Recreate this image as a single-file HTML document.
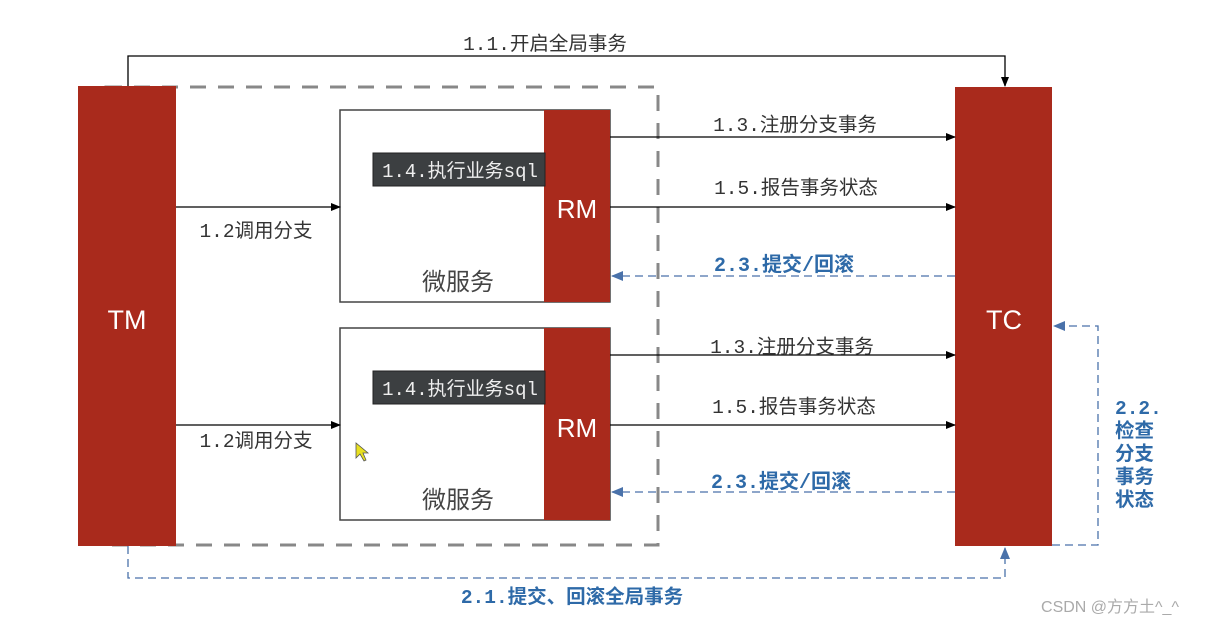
<!DOCTYPE html>
<html><head><meta charset="utf-8"><style>
html,body{margin:0;padding:0;background:#fff;}
svg{display:block;}
text{font-family:"Liberation Mono","Noto Sans CJK SC",monospace;}
.s{font-family:"Liberation Sans","Noto Sans CJK SC",sans-serif;}
</style></head><body>
<svg width="1205" height="625" viewBox="0 0 1205 625" xmlns="http://www.w3.org/2000/svg">
<defs>
<marker id="ab" markerWidth="10" markerHeight="10" refX="9" refY="5" orient="auto" markerUnits="userSpaceOnUse"><path d="M0,1 L10,5 L0,9 Z" fill="#000"/></marker>
<marker id="au" markerWidth="12" markerHeight="12" refX="11" refY="6" orient="auto" markerUnits="userSpaceOnUse"><path d="M0,1 L12,6 L0,11 Z" fill="#4a72aa"/></marker>
</defs>
<rect x="106" y="87" width="552" height="458" fill="none" stroke="#888" stroke-width="3" stroke-dasharray="16,12"/>
<path d="M128,87 V56 H1005 V86" fill="none" stroke="#000" stroke-width="1.3" marker-end="url(#ab)"/>
<text x="545" y="50" font-size="19.5" fill="#333" text-anchor="middle">1.1.开启全局事务</text>
<path d="M128,546 V578 H1005 V548" fill="none" stroke="#4a72aa" stroke-width="1.3" stroke-dasharray="8,5" marker-end="url(#au)"/>
<text x="572" y="603" font-size="19.5" fill="#2e6aa8" font-weight="bold" text-anchor="middle">2.1.提交、回滚全局事务</text>
<path d="M1052,545 H1098 V326 H1054" fill="none" stroke="#4a72aa" stroke-width="1.3" stroke-dasharray="8,5" marker-end="url(#au)"/>
<g font-size="19.5" fill="#2e6aa8" font-weight="bold">
<text x="1115" y="414">2.2.</text>
<text x="1115" y="437">检查</text>
<text x="1115" y="460">分支</text>
<text x="1115" y="483">事务</text>
<text x="1115" y="506">状态</text>
</g>
<rect x="78" y="86" width="98" height="460" fill="#a92a1c"/>
<text class="s" x="127" y="329" font-size="27" fill="#fff" text-anchor="middle">TM</text>
<rect x="955" y="87" width="97" height="459" fill="#a92a1c"/>
<text class="s" x="1004" y="329" font-size="27" fill="#fff" text-anchor="middle">TC</text>
<g>
<rect x="340" y="110" width="270" height="192" fill="#fff" stroke="#444" stroke-width="1.5"/>
<rect x="544" y="110" width="66" height="192" fill="#a92a1c"/>
<text class="s" x="577" y="218" font-size="26" fill="#fff" text-anchor="middle">RM</text>
<rect x="373" y="153" width="172" height="33" fill="#3c3f41" stroke="#222"/>
<text x="460" y="177" font-size="19" fill="#eee" text-anchor="middle">1.4.执行业务sql</text>
<text class="s" x="458" y="290" font-size="24" fill="#444" text-anchor="middle">微服务</text>
</g>
<g>
<rect x="340" y="328" width="270" height="192" fill="#fff" stroke="#444" stroke-width="1.5"/>
<rect x="544" y="328" width="66" height="192" fill="#a92a1c"/>
<text class="s" x="577" y="437" font-size="26" fill="#fff" text-anchor="middle">RM</text>
<rect x="373" y="371" width="172" height="33" fill="#3c3f41" stroke="#222"/>
<text x="460" y="395" font-size="19" fill="#eee" text-anchor="middle">1.4.执行业务sql</text>
<text class="s" x="458" y="508" font-size="24" fill="#444" text-anchor="middle">微服务</text>
</g>
<line x1="176" y1="207" x2="340" y2="207" stroke="#000" stroke-width="1.3" marker-end="url(#ab)"/>
<text x="256" y="237" font-size="19.5" fill="#333" text-anchor="middle">1.2调用分支</text>
<line x1="176" y1="425" x2="340" y2="425" stroke="#000" stroke-width="1.3" marker-end="url(#ab)"/>
<text x="256" y="447" font-size="19.5" fill="#333" text-anchor="middle">1.2调用分支</text>
<g stroke-width="1.3">
<line x1="610" y1="137" x2="955" y2="137" stroke="#000" marker-end="url(#ab)"/>
<line x1="610" y1="207" x2="955" y2="207" stroke="#000" marker-end="url(#ab)"/>
<line x1="955" y1="276" x2="612" y2="276" stroke="#4a72aa" stroke-dasharray="8,5" marker-end="url(#au)"/>
<line x1="610" y1="355" x2="955" y2="355" stroke="#000" marker-end="url(#ab)"/>
<line x1="610" y1="425" x2="955" y2="425" stroke="#000" marker-end="url(#ab)"/>
<line x1="955" y1="492" x2="612" y2="492" stroke="#4a72aa" stroke-dasharray="8,5" marker-end="url(#au)"/>
</g>
<g font-size="19.5" fill="#333" text-anchor="middle">
<text x="795" y="131">1.3.注册分支事务</text>
<text x="796" y="194">1.5.报告事务状态</text>
<text x="792" y="353">1.3.注册分支事务</text>
<text x="794" y="413">1.5.报告事务状态</text>
</g>
<g font-size="20" fill="#2e6aa8" font-weight="bold" text-anchor="middle">
<text x="784" y="271">2.3.提交/回滚</text>
<text x="781" y="488">2.3.提交/回滚</text>
</g>
<path d="M356,443 L356,458 L360,454 L364,461 L366,460 L363,453 L368,453 Z" fill="#e8e020" stroke="#555" stroke-width="0.8"/>
<text class="s" x="1110" y="612" font-size="16" fill="#aaa" text-anchor="middle">CSDN @方方土^_^</text>
</svg>
</body></html>
